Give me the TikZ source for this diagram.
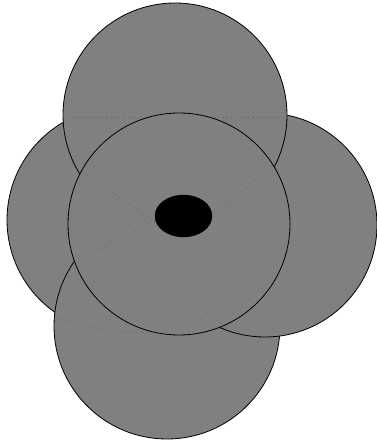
\documentclass[tikz,border=0pt]{standalone}
\definecolor{dkFill}{HTML}{808080}
\definecolor{dkLine}{HTML}{000000}
\definecolor{dkTrace}{HTML}{606060}
\tikzset{
  disk/.style={fill=dkFill, draw=dkLine, line width=0.8pt},
  hole/.style={fill=black, draw=black},
  trace/.style={draw=dkTrace, dash pattern=on 0.8pt off 3.5pt, line width=0.7pt}
}

\begin{document}
\begin{tikzpicture}[x=1pt,y=1pt]

\useasboundingbox (0,0) rectangle (377,444);

% --------------------------------------------------------------------------
% Outer disks (back to front)
% --------------------------------------------------------------------------
\draw[disk] (120,224) circle[radius=113pt];   % left
\draw[disk] (167,118) circle[radius=113pt];   % bottom
\draw[trace] (57,126) to[bend right=8] (147,111);
\draw[disk] (265,219) circle[radius=112pt];   % right
\draw[disk] (175,329) circle[radius=112pt];   % top
\draw[trace] (72,327) -- (285,327);

% --------------------------------------------------------------------------
% Central disk and hub
% --------------------------------------------------------------------------
\draw[disk] (179,220) circle[radius=111pt];
\draw[trace] (155,222) -- (82,272);
\draw[trace] (155,222) -- (80,186);
\draw[trace] (212,227) -- (275,281);
\draw[trace] (207,131) -- (222,120);

\draw[hole] (183.5,228) ellipse[x radius=28.5pt, y radius=21pt];

\end{tikzpicture}
\end{document}
